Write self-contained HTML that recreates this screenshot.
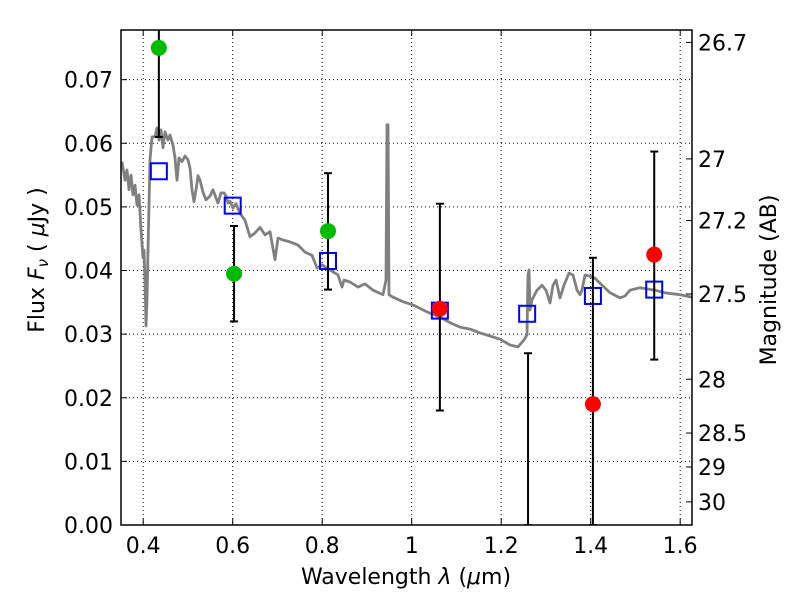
<!DOCTYPE html>
<html><head><meta charset="utf-8"><style>
body{margin:0;background:#fff}
svg{display:block;font-family:"DejaVu Sans","Liberation Sans",sans-serif}
</style></head><body>
<svg id="chart" width="800" height="600" viewBox="0 0 800 600">
<defs><clipPath id="pc"><rect x="121" y="30" width="571" height="495"/></clipPath></defs>
<rect width="800" height="600" fill="#fff"/>
<g id="grid"></g>
<g id="spec" clip-path="url(#pc)"></g>
<g id="marks" clip-path="url(#pc)"></g>
<g id="axes"></g>
<text x="406" y="584" font-size="22" text-anchor="middle">Wavelength  <tspan font-style="italic">λ</tspan> (<tspan font-style="italic">μ</tspan>m)</text>
<text transform="translate(44,260) rotate(-90)" font-size="22" text-anchor="middle">Flux  <tspan font-style="italic">F</tspan><tspan font-style="italic" font-size="15" dy="4">ν</tspan><tspan dy="-4">  ( </tspan><tspan font-style="italic">μ</tspan>Jy )</text>
<text transform="translate(776,280) rotate(-90)" font-size="22" text-anchor="middle">Magnitude (AB)</text>
</svg>
<script>
const specLam=[.3526,.3593,.3638,.3683,.3727,.3772,.3817,.3862,.3906,.3951,.3996,.4018,.4040,.4063,.4085,.4107,.4152,.4197,.4264,.4308,.4353,.4398,.4443,.4487,.4554,.4599,.4666,.4711,.4756,.4800,.4867,.4934,.5001,.5046,.5091,.5136,.5180,.5225,.5270,.5337,.5404,.5493,.5560,.5627,.5672,.5739,.5806,.5851,.5895,.5940,.6007,.6074,.6163,.6275,.6387,.6498,.6610,.6722,.6834,.6945,.7012,.7124,.7281,.7459,.7616,.7772,.7884,.7996,.8175,.8353,.8443,.8487,.8621,.8800,.8956,.9135,.9359,.9426,.9448,.9470,.9493,.9582,.9806,1.0029,1.0342,1.0633,1.0856,1.1080,1.1303,1.1527,1.1750,1.1974,1.2197,1.2376,1.2510,1.2577,1.2599,1.2622,1.2644,1.2689,1.2801,1.2913,1.3002,1.3091,1.3158,1.3225,1.3315,1.3404,1.3516,1.3605,1.3695,1.3762,1.3806,1.3873,1.3985,1.4097,1.4208,1.4432,1.4655,1.4767,1.4879,1.5102,1.5438,1.5661,1.5997,1.6265];
const specFlux=[.0571,.0542,.0558,.0527,.0550,.0519,.0534,.0503,.0519,.0464,.0420,.0432,.0385,.0313,.0354,.0432,.0574,.0610,.0610,.0624,.0605,.0621,.0593,.0618,.0605,.0613,.0597,.0577,.0542,.0577,.0571,.0580,.0574,.0561,.0527,.0508,.0527,.0549,.0542,.0523,.0511,.0517,.0527,.0514,.0506,.0522,.0522,.0517,.0506,.0509,.0498,.0505,.0490,.0479,.0453,.0459,.0468,.0456,.0461,.0417,.0451,.0448,.0445,.0440,.0429,.0424,.0404,.0409,.0401,.0393,.0374,.0385,.0382,.0374,.0379,.0369,.0362,.0385,.0629,.0629,.0362,.0358,.0351,.0346,.0335,.0327,.0318,.0311,.0308,.0302,.0297,.0292,.0283,.0280,.0291,.0299,.0393,.0401,.0338,.0354,.0369,.0377,.0369,.0349,.0377,.0385,.0357,.0377,.0396,.0393,.0369,.0362,.0369,.0393,.0391,.0388,.0380,.0365,.0357,.0360,.0369,.0373,.0369,.0365,.0362,.0358];
const greenLam=[0.435,0.603,0.813];
const greenFlux=[0.075,0.0395,0.0462];
const greenLo=[0.061,0.032,0.037];
const greenHi=[0.090,0.047,0.0553];
const redLam=[1.063,1.26,1.405,1.542];
const redFlux=[0.034,-0.0012,0.019,0.0425];
const redLo=[0.018,0.0,0.0,0.026];
const redHi=[0.0505,0.027,0.042,0.0587];
const modelLam=[0.435,0.6,0.813,1.063,1.258,1.405,1.542];
const modelFlux=[0.0556,0.0502,0.0415,0.0337,0.0332,0.036,0.037];
const xTicks=[0.4,0.6,0.8,1.0,1.2,1.4,1.6];
const xTickLabels=["0.4","0.6","0.8","1","1.2","1.4","1.6"];
const yTicks=[0,0.01,0.02,0.03,0.04,0.05,0.06,0.07];
const yTickLabels=["0.00","0.01","0.02","0.03","0.04","0.05","0.06","0.07"];
const magTicks=[26.7,27,27.2,27.5,28,28.5,29,30];
const magLabels=["26.7","27","27.2","27.5","28","28.5","29","30"];

const L=121,R=692,T=30,B=525;
const xmin=0.3504,xmax=1.6264,ymin=0,ymax=(B-T)/6362;
const X=v=>L+(v-xmin)/(xmax-xmin)*(R-L);
const Y=v=>B-(v-ymin)/(ymax-ymin)*(B-T);
const NS="http://www.w3.org/2000/svg";
function mk(tag,attrs,parent){const e=document.createElementNS(NS,tag);for(const k in attrs)e.setAttribute(k,attrs[k]);parent.appendChild(e);return e;}
const grid=document.getElementById('grid'),spec=document.getElementById('spec'),marks=document.getElementById('marks'),axes=document.getElementById('axes');

xTicks.forEach((t,i)=>{
  const x=X(t);
  let g=mk('line',{x1:x,x2:x,y1:T,y2:B,stroke:'#000','stroke-width':1,'stroke-dasharray':'1,3'},grid);
  
  
  let tk=mk('line',{x1:x,x2:x,y1:B,y2:B-6,stroke:'#000'},axes);
  
  
  let tk2=mk('line',{x1:x,x2:x,y1:T,y2:T+6,stroke:'#000'},axes);
  
  
  let lb=mk('text',{x:x,y:B+28,'font-size':22,'text-anchor':'middle'},axes);lb.textContent=xTickLabels[i];
  
  
});
yTicks.forEach((t,i)=>{
  const y=Y(t);
  let g=mk('line',{x1:L,x2:R,y1:y,y2:y,stroke:'#000','stroke-width':1,'stroke-dasharray':'1,3'},grid);
  
  
  let tk=mk('line',{x1:L,x2:L+6,y1:y,y2:y,stroke:'#000'},axes);
  
  
  let lb=mk('text',{x:L-8,y:y+8,'font-size':22,'text-anchor':'end'},axes);lb.textContent=yTickLabels[i];
  
  
});
magTicks.forEach((m,i)=>{
  const y=Y(Math.pow(10,(23.9-m)/2.5));
  let tk=mk('line',{x1:R,x2:R-6,y1:y,y2:y,stroke:'#000'},axes);
  
  
  let lb=mk('text',{x:R+6,y:y+8,'font-size':22},axes);lb.textContent=magLabels[i];
  
  
});
let fr=mk('rect',{x:L,y:T,width:R-L,height:B-T,fill:'none',stroke:'#000','stroke-width':1.5},axes);



const pts=specLam.map((l,i)=>X(l).toFixed(1)+','+Y(specFlux[i]).toFixed(1)).join(' ');
let pl=mk('polyline',{points:pts,fill:'none',stroke:'#808080','stroke-width':2.8,'stroke-linejoin':'round'},spec);



function errbar(x,lo,hi){
  const y1=Y(lo),y2=Y(hi);
  let e=mk('line',{x1:x,x2:x,y1:y1,y2:y2,stroke:'#000','stroke-width':2},marks);
  
  
  [lo,hi].forEach(v=>{const y=Y(v);let c=mk('line',{x1:x-4,x2:x+4,y1:y,y2:y,stroke:'#000','stroke-width':2},marks);
  
  });
}
modelLam.forEach((l,i)=>{
  let s=mk('rect',{x:X(l)-8,y:Y(modelFlux[i])-8,width:16,height:16,fill:'none',stroke:'#0000ff','stroke-width':2},marks);
  
  
});
greenLam.forEach((l,i)=>{
  errbar(X(l),greenLo[i],greenHi[i]);
  let c=mk('circle',{cx:X(l),cy:Y(greenFlux[i]),r:8,fill:'#00bb00'},marks);
  
  
});
redLam.forEach((l,i)=>{
  errbar(X(l),redLo[i],redHi[i]);
  let c=mk('circle',{cx:X(l),cy:Y(redFlux[i]),r:8,fill:'#ff0000'},marks);
  
  
});
</script>
</body></html>
